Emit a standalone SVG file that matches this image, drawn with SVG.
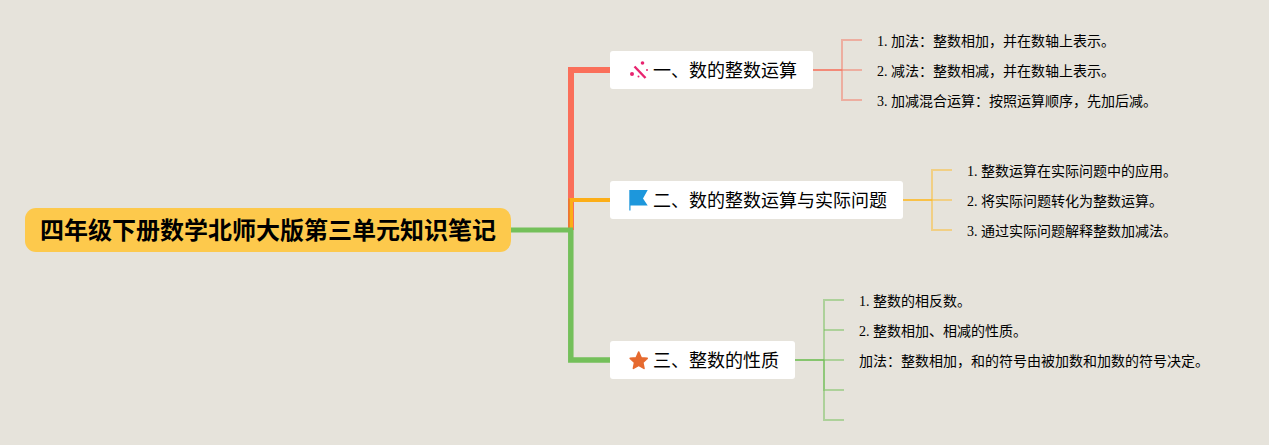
<svg xmlns="http://www.w3.org/2000/svg" width="1269" height="445" viewBox="0 0 1269 445">
<style>
.bg{fill:#e6e3db}
.n{fill:#fff}
text{font-family:"Liberation Serif","Noto Sans CJK SC",serif;fill:#000}
.r{font-family:"Liberation Sans","Noto Sans CJK SC",sans-serif;font-size:24px;font-weight:700}
.m{font-family:"Liberation Sans","Noto Sans CJK SC",sans-serif;font-size:18px}
.s{font-size:14px}
#connectors path{fill:none;stroke-linejoin:miter}
.t1,.t1b{stroke:#f47a66;stroke-width:2}
.t2,.t2b{stroke:#fbbb2d;stroke-width:2}
.t3,.t3b{stroke:#74c05a;stroke-width:2}
.t1,.t2,.t3{opacity:.85}
.t1b,.t2b,.t3b{opacity:.5}
</style>
<rect class="bg" width="1269" height="445"/>
<g id="connectors">
<path d="M571 230V70H610" stroke="#fa6f5a" stroke-width="6"/>
<path d="M570.800 230V360H610" stroke="#74c05a" stroke-width="5.500"/>
<path d="M571 228V200H610" stroke="#fcae17" stroke-width="4"/>
<path d="M569 198.500V228" stroke="#e8762a" stroke-width="1.500"/>
<path d="M511 230H573" stroke="#74c05a" stroke-width="5"/>
<path class="t1" d="M813 70H842"/>
<path class="t1b" d="M862 40H842V70"/><path class="t1b" d="M842 70H862"/><path class="t1b" d="M842 70V100H862"/>
<path class="t2" d="M903 200H932"/>
<path class="t2b" d="M952 170H932V200"/><path class="t2b" d="M932 200H952"/><path class="t2b" d="M932 200V230H952"/>
<path class="t3" d="M795 360H824"/>
<path class="t3b" d="M844 300H824V360"/><path class="t3b" d="M824 330H844"/><path class="t3b" d="M824 360H844"/><path class="t3b" d="M824 360V390H844"/><path class="t3b" d="M824 360V420H844"/>
</g>
<g id="root"><rect x="25" y="208" width="486" height="44" rx="11" fill="#fdc94c"/><text class="r" x="40" y="239">四年级下册数学北师大版第三单元知识笔记</text></g>
<g id="node1"><rect class="n" x="610" y="51" width="203" height="38" rx="3"/>
<g fill="#e8246f"><circle cx="642.500" cy="63" r="1.800"/><circle cx="632" cy="74" r="2"/><circle cx="647" cy="70" r="1"/><circle cx="638.500" cy="76.500" r="1"/><path d="M634.500 66.500L645.500 78" stroke="#e8246f" stroke-width="2.400" fill="none"/></g>
<text class="m" x="653" y="77">一、数的整数运算</text></g>
<g id="node2"><rect class="n" x="610" y="181" width="293" height="38" rx="3"/>
<path d="M629.300 190H647.700L643 198.500L647.700 205.500H630.500V210.500H629.300Z" fill="#1d97dc"/>
<text class="m" x="653" y="207">二、数的整数运算与实际问题</text></g>
<g id="node3"><rect class="n" x="610" y="341" width="185" height="38" rx="3"/>
<path d="M638.700 352L641.200 357.700L647.200 358.400L642.800 362.500L644 368.400L638.700 365.400L633.400 368.400L634.600 362.500L630.200 358.400L636.200 357.700Z" fill="#e66a2f" stroke="#e66a2f" stroke-width="1.600" stroke-linejoin="round"/>
<text class="m" x="653" y="367">三、整数的性质</text></g>
<g id="t11"><text class="s" x="877" y="46">1. 加法：整数相加，并在数轴上表示。</text></g>
<g id="t12"><text class="s" x="877" y="76">2. 减法：整数相减，并在数轴上表示。</text></g>
<g id="t13"><text class="s" x="877" y="106">3. 加减混合运算：按照运算顺序，先加后减。</text></g>
<g id="t21"><text class="s" x="967" y="176">1. 整数运算在实际问题中的应用。</text></g>
<g id="t22"><text class="s" x="967" y="206">2. 将实际问题转化为整数运算。</text></g>
<g id="t23"><text class="s" x="967" y="236">3. 通过实际问题解释整数加减法。</text></g>
<g id="t31"><text class="s" x="859" y="306">1. 整数的相反数。</text></g>
<g id="t32"><text class="s" x="859" y="336">2. 整数相加、相减的性质。</text></g>
<g id="t33"><text class="s" x="859" y="366">加法：整数相加，和的符号由被加数和加数的符号决定。</text></g>
</svg>
